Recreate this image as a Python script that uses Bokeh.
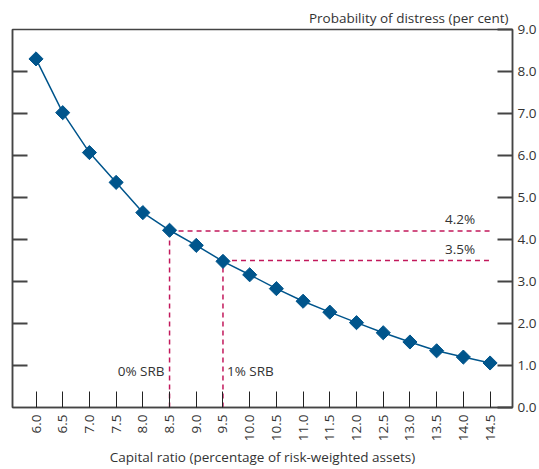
import math
from bokeh.plotting import figure
from bokeh.models import (Range1d, LinearAxis, FixedTicker, NumeralTickFormatter,
                          Label, ColumnDataSource, Title)
from bokeh.embed import file_html
from bokeh.resources import INLINE

capital_ratio = [6.0, 6.5, 7.0, 7.5, 8.0, 8.5, 9.0, 9.5, 10.0, 10.5,
                 11.0, 11.5, 12.0, 12.5, 13.0, 13.5, 14.0, 14.5]
prob_distress = [8.30, 7.02, 6.07, 5.36, 4.64, 4.22, 3.86, 3.48, 3.16, 2.83,
                 2.53, 2.27, 2.02, 1.78, 1.56, 1.35, 1.20, 1.06]
srb_ratio = [8.5, 9.5]
srb_prob = [4.2, 3.5]
srb_labels = ["0% SRB", "1% SRB"]
prob_labels = ["4.2%", "3.5%"]
y_ticks = [0, 1, 2, 3, 4, 5, 6, 7, 8, 9]
y_title = "Probability of distress (per cent)"
x_title = "Capital ratio (percentage of risk-weighted assets)"

FONT = "Open Sans"
FS = "13.5px"
TXT = "#333333"
BLUE = "#00558C"
RED = "#C2185B"
AX = "#444444"

p = figure(width=539, height=469, output_backend="svg", toolbar_location=None,
           x_range=Range1d(5.56, 14.92), y_range=Range1d(0, 9),
           x_axis_location=None, y_axis_location=None,
           min_border_left=12, min_border_right=0, min_border_top=29, min_border_bottom=0)
p.grid.visible = False
p.outline_line_color = AX
p.outline_line_width = 1.5
p.background_fill_color = "white"
p.border_fill_color = "white"

title = Title(text=y_title, align="right",
              text_font=FONT, text_font_size=FS, text_font_style="normal",
              text_color=TXT, standoff=6, offset=4)
p.add_layout(title, "above")

# bottom axis
xax = LinearAxis(ticker=FixedTicker(ticks=capital_ratio),
                 formatter=NumeralTickFormatter(format="0.0"),
                 axis_label=x_title,
                 axis_label_text_font=FONT, axis_label_text_font_size=FS,
                 axis_label_text_font_style="normal", axis_label_text_color=TXT,
                 axis_label_standoff=4,
                 major_label_text_font=FONT, major_label_text_font_size=FS,
                 major_label_text_color=TXT, major_label_orientation=math.pi / 2,
                 major_label_standoff=7,
                 major_tick_in=16, major_tick_out=0, major_tick_line_color="#222222",
                 major_tick_line_width=1, minor_tick_line_color=None,
                 axis_line_color=AX, axis_line_width=1.5)
p.add_layout(xax, "below")

# right axis
yax = LinearAxis(ticker=FixedTicker(ticks=y_ticks),
                 formatter=NumeralTickFormatter(format="0.0"),
                 major_label_text_font=FONT, major_label_text_font_size=FS,
                 major_label_text_color=TXT, major_label_standoff=5,
                 major_tick_in=15, major_tick_out=0, major_tick_line_color=AX,
                 major_tick_line_width=2, minor_tick_line_color=None,
                 axis_line_color=AX, axis_line_width=1.5)
p.add_layout(yax, "right")

# left axis (ticks only)
left_ticks = y_ticks[1:-1]
lax = LinearAxis(ticker=FixedTicker(ticks=left_ticks),
                 major_label_overrides={t: "" for t in left_ticks},
                 major_label_standoff=0,
                 major_tick_in=15, major_tick_out=0, major_tick_line_color=AX,
                 major_tick_line_width=2, minor_tick_line_color=None,
                 axis_line_color=AX, axis_line_width=1.5)
p.add_layout(lax, "left")

# SRB reference lines
x_end = capital_ratio[-1]
for xr, yr in zip(srb_ratio, srb_prob):
    p.segment(x0=[xr], y0=[yr], x1=[x_end], y1=[yr], line_color=RED,
              line_width=1.5, line_dash="5 4")
    p.segment(x0=[xr], y0=[0], x1=[xr], y1=[yr], line_color=RED,
              line_width=1.5, line_dash="5 4")

src = ColumnDataSource(dict(x=capital_ratio, y=prob_distress))
p.line("x", "y", source=src, line_color=BLUE, line_width=1.5)
p.scatter("x", "y", source=src, marker="square", angle=math.pi / 4, size=10,
          fill_color=BLUE, line_color=BLUE)

for yr, lab in zip(srb_prob, prob_labels):
    p.add_layout(Label(x=x_end, y=yr, text=lab, x_offset=-15, y_offset=3,
                       text_align="right", text_baseline="bottom",
                       text_font=FONT, text_font_size=FS, text_color=TXT))

p.add_layout(Label(x=srb_ratio[0], y=0, text=srb_labels[0], x_offset=-5, y_offset=37,
                   text_align="right", text_baseline="middle",
                   text_font=FONT, text_font_size=FS, text_color=TXT))
p.add_layout(Label(x=srb_ratio[1], y=0, text=srb_labels[1], x_offset=4, y_offset=37,
                   text_align="left", text_baseline="middle",
                   text_font=FONT, text_font_size=FS, text_color=TXT))

open("out.html", "w").write(file_html(p, INLINE))
